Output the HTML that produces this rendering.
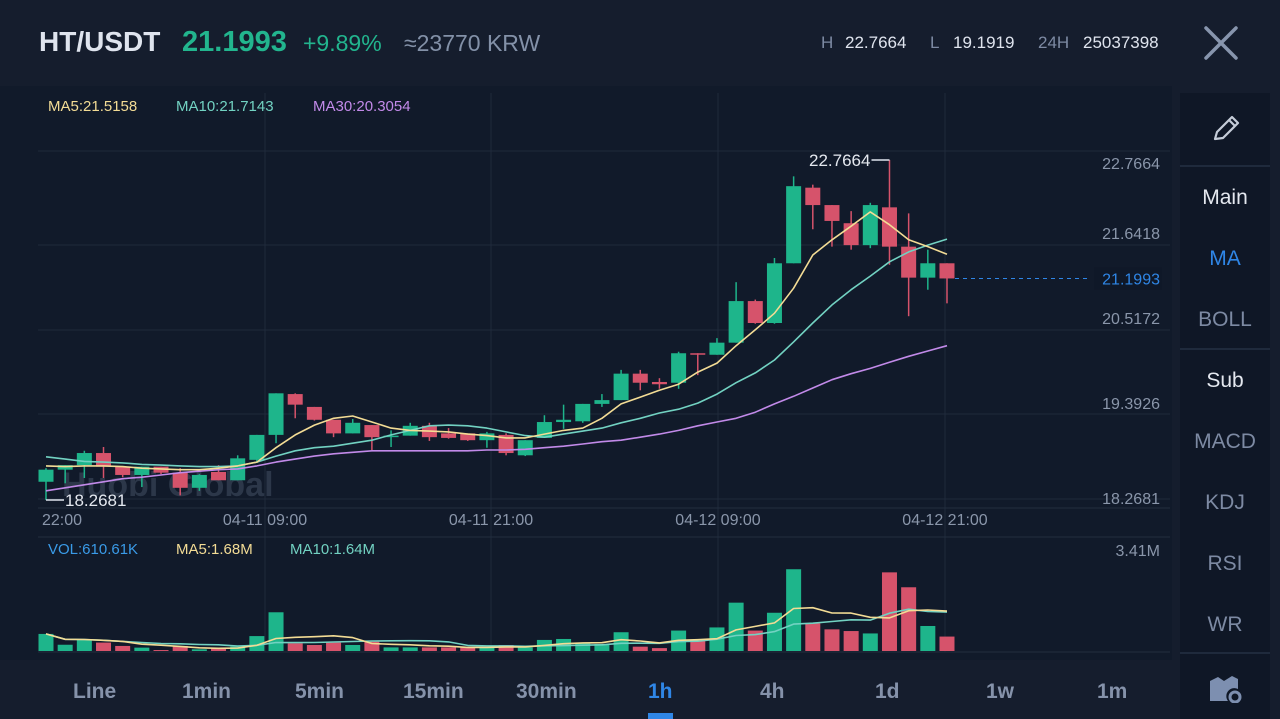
<!DOCTYPE html>
<html><head><meta charset="utf-8">
<style>
*{margin:0;padding:0;box-sizing:border-box}
body{width:1280px;height:719px;overflow:hidden;background:#151d2d;font-family:"Liberation Sans",sans-serif;position:relative}
.t{position:absolute;white-space:nowrap}
#header{position:absolute;left:0;top:0;width:1280px;height:86px;background:#151d2d}
#chart-panel{position:absolute;left:0;top:86px;width:1172px;height:574px;background:#111a2a}
#side{position:absolute;left:1180px;top:93px;width:90px;height:626px;background:#0f1726}
.side-item{position:absolute;left:0;width:90px;text-align:center;font-size:21px;color:#7d8aa3}
.sep{position:absolute;left:0;width:90px;height:2px;background:#1f2a3c}
.tab{position:absolute;top:680px;font-size:21px;color:#8592aa;font-weight:bold}
</style></head>
<body>
<div id="header">
  <div class="t" style="left:39px;top:26px;font-size:28px;font-weight:bold;color:#dfe4ee">HT/USDT</div>
  <div class="t" style="left:182px;top:26px;font-size:29px;font-weight:bold;color:#22b58e">21.1993</div>
  <div class="t" style="left:303px;top:30px;font-size:23px;color:#22b58e">+9.89%</div>
  <div class="t" style="left:404px;top:30px;font-size:23px;color:#8391a8">≈23770 KRW</div>
  <div class="t" style="left:821px;top:33px;font-size:17px;color:#7d8aa3">H</div>
  <div class="t" style="left:845px;top:33px;font-size:17px;color:#dfe4ee">22.7664</div>
  <div class="t" style="left:930px;top:33px;font-size:17px;color:#7d8aa3">L</div>
  <div class="t" style="left:953px;top:33px;font-size:17px;color:#dfe4ee">19.1919</div>
  <div class="t" style="left:1038px;top:33px;font-size:17px;color:#7d8aa3">24H</div>
  <div class="t" style="left:1083px;top:33px;font-size:17px;color:#dfe4ee">25037398</div>
  <svg style="position:absolute;left:1203px;top:25px" width="36" height="36"><path d="M3 3L33 33M33 3L3 33" stroke="#8795ad" stroke-width="3.5" stroke-linecap="round"/></svg>
</div>
<div id="chart-panel"></div>
<svg id="chart" style="position:absolute;left:0;top:0" width="1180" height="719"></svg>

<div id="side">
  <svg style="position:absolute;left:30px;top:20px" width="32" height="32"><path d="M5 26L7 19L22 4L28 10L13 25Z M19 7L25 13" fill="none" stroke="#c5ccd8" stroke-width="2.2" stroke-linejoin="round"/></svg>
  <div class="sep" style="top:72px"></div>
  <div class="side-item" style="top:93px;color:#e4e8ef">Main</div>
  <div class="side-item" style="top:154px;color:#2f86e6">MA</div>
  <div class="side-item" style="top:215px">BOLL</div>
  <div class="sep" style="top:255px"></div>
  <div class="side-item" style="top:276px;color:#e4e8ef">Sub</div>
  <div class="side-item" style="top:337px">MACD</div>
  <div class="side-item" style="top:398px">KDJ</div>
  <div class="side-item" style="top:459px">RSI</div>
  <div class="side-item" style="top:520px">WR</div>
  <div class="sep" style="top:559px"></div>
  <svg style="position:absolute;left:28px;top:580px" width="36" height="30"><path d="M2 28V8L10 4L16 8L24 3L30 6V16A8 8 0 0 0 20 28Z" fill="#7d8fb0"/><circle cx="27" cy="24" r="5" fill="none" stroke="#7d8fb0" stroke-width="3"/></svg>
</div>

<div class="tab" style="left:73px">Line</div>
<div class="tab" style="left:182px">1min</div>
<div class="tab" style="left:295px">5min</div>
<div class="tab" style="left:403px">15min</div>
<div class="tab" style="left:516px">30min</div>
<div class="tab" style="left:648px;color:#2f86e6">1h</div>
<div style="position:absolute;left:648px;top:713px;width:25px;height:6px;background:#2f86e6"></div>
<div class="tab" style="left:760px">4h</div>
<div class="tab" style="left:875px">1d</div>
<div class="tab" style="left:986px">1w</div>
<div class="tab" style="left:1097px">1m</div>

<script>
const opens  = [18.51,18.67,18.73,18.89,18.71,18.60,18.71,18.63,18.43,18.64,18.53,18.80,19.13,19.67,19.50,19.33,19.15,19.26,19.10,19.12,19.25,19.15,19.15,19.06,19.13,18.86,19.09,19.30,19.31,19.54,19.59,19.94,19.83,19.82,20.21,20.19,20.35,20.90,20.61,21.40,22.40,22.17,21.93,21.64,22.14,21.62,21.21,21.40];
const highs  = [18.69,18.73,18.92,18.97,18.71,18.71,18.71,18.69,18.61,18.73,18.86,19.13,19.68,19.68,19.50,19.33,19.34,19.26,19.19,19.29,19.29,19.22,19.15,19.17,19.15,19.06,19.39,19.53,19.54,19.67,19.99,19.99,19.88,20.23,20.21,20.41,21.15,20.92,21.47,22.55,22.44,22.17,22.09,22.20,22.7664,22.06,21.58,21.40];
const lows   = [18.2681,18.49,18.56,18.56,18.57,18.44,18.61,18.33,18.39,18.53,18.53,18.77,19.02,19.35,19.32,19.10,19.15,18.93,18.97,19.12,19.05,19.08,19.05,18.96,18.86,18.85,19.09,19.21,19.29,19.50,19.59,19.72,19.74,19.74,19.92,20.19,20.35,20.60,20.60,21.40,21.85,21.62,21.58,21.60,21.38,20.70,21.05,20.87];
const closes = [18.67,18.73,18.89,18.71,18.60,18.71,18.63,18.43,18.60,18.53,18.82,19.13,19.68,19.53,19.33,19.15,19.29,19.10,19.12,19.25,19.10,19.09,19.06,19.15,18.89,19.06,19.30,19.33,19.54,19.59,19.94,19.82,19.80,20.21,20.20,20.35,20.90,20.61,21.40,22.42,22.17,21.96,21.64,22.17,21.62,21.21,21.40,21.1993];
const ma5  = [18.72,18.71,18.72,18.72,18.71,18.69,18.68,18.67,18.67,18.69,18.72,18.77,18.96,19.13,19.26,19.35,19.38,19.30,19.22,19.19,19.18,19.17,19.14,19.12,19.09,19.09,19.14,19.19,19.22,19.35,19.54,19.63,19.72,19.80,19.96,20.08,20.31,20.52,20.74,21.07,21.51,21.71,21.89,22.08,21.91,21.71,21.62,21.52];
const ma10 = [18.84,18.81,18.78,18.77,18.76,18.74,18.73,18.72,18.71,18.71,18.72,18.77,18.85,18.92,18.96,18.98,19.02,19.06,19.13,19.19,19.25,19.26,19.25,19.22,19.17,19.12,19.10,19.14,19.18,19.22,19.29,19.35,19.42,19.47,19.55,19.67,19.82,19.95,20.12,20.36,20.61,20.85,21.05,21.23,21.42,21.55,21.64,21.72];
const ma30 = [18.39,18.43,18.47,18.51,18.55,18.57,18.60,18.63,18.65,18.67,18.68,18.72,18.77,18.81,18.85,18.88,18.90,18.92,18.92,18.92,18.92,18.92,18.92,18.93,18.93,18.94,18.96,18.98,19.01,19.04,19.06,19.10,19.14,19.19,19.25,19.30,19.35,19.43,19.54,19.64,19.75,19.86,19.94,20.01,20.09,20.17,20.24,20.31];
const volumes = [0.71,0.26,0.46,0.35,0.21,0.14,0.04,0.21,0.07,0.11,0.18,0.62,1.61,0.32,0.25,0.35,0.25,0.39,0.15,0.15,0.15,0.15,0.15,0.15,0.25,0.15,0.46,0.50,0.32,0.29,0.78,0.18,0.12,0.85,0.42,0.98,2.01,0.85,1.59,3.40,1.15,0.90,0.83,0.73,3.27,2.65,1.04,0.60];
const priceTicks = ["22.7664","21.6418","20.5172","19.3926","18.2681"];
const timeLabels = ["22:00","04-11 09:00","04-11 21:00","04-12 09:00","04-12 21:00"];
const lastPrice = 21.1993;
const highPrice = 22.7664, lowPrice = 18.2681;

const svg = document.getElementById('chart');
const NS = 'http://www.w3.org/2000/svg';
const X0 = 46, STEP = 19.17, BODY = 15;
const xAt = i => X0 + i * STEP;
const yP = p => 245 + (21.6418 - p) * 75.6;
const VBASE = 651, VPX = 24.05;
const yV = v => VBASE - v * VPX;
const GREEN = '#1eb58b', RED = '#d6536b';

function mk(tag, attrs) { const e = document.createElementNS(NS, tag); for (const k in attrs) e.setAttribute(k, attrs[k]); svg.appendChild(e); return e; }

const gridYs = [151, 245, 330, 414, 499];
gridYs.forEach(function (y) {
  const l = mk('line', {x1: 38, x2: 1170, y1: y, y2: y, stroke: '#1f2a3b', 'stroke-width': 1});
  
  
});
[265, 491, 718, 945].forEach(function (x) {
  const l = mk('line', {x1: x, x2: x, y1: 93, y2: 652, stroke: '#1f2a3b', 'stroke-width': 1});
  
  
});
[508, 537, 652].forEach(function (y) {
  const l = mk('line', {x1: 38, x2: 1170, y1: y, y2: y, stroke: '#222d3f', 'stroke-width': 1});
  
  
});

const wm = mk('text', {x: 62, y: 496, 'font-size': 34, 'font-weight': 'bold', fill: '#2c3749', 'font-family': 'Liberation Sans, sans-serif'});
wm.textContent = 'Huobi Global';



const tickVals = [22.7664, 21.6418, 20.5172, 19.3926, 18.2681];
priceTicks.forEach(function (t, i) {
  const off = i === 0 ? 9 : (i === tickVals.length - 1 ? 4 : -6);
  const e = mk('text', {x: 1160, y: yP(tickVals[i]) + off, 'font-size': 16, fill: '#8a96aa', 'text-anchor': 'end', 'font-family': 'Liberation Sans, sans-serif'});
  e.textContent = t;
  
  
});
const timeXs = [42, 265, 491, 718, 945];
timeLabels.forEach(function (t, i) {
  const e = mk('text', {x: timeXs[i], y: 525, 'font-size': 16, fill: '#8a96aa', 'text-anchor': i === 0 ? 'start' : 'middle', 'font-family': 'Liberation Sans, sans-serif'});
  e.textContent = t;
  
  
});

for (let i = 0; i < closes.length; i++) {
  const up = closes[i] >= opens[i];
  const c = up ? GREEN : RED;
  const x = xAt(i);
  const w = mk('line', {x1: x, x2: x, y1: yP(highs[i]), y2: yP(lows[i]), stroke: c, 'stroke-width': 1.5});
  
  
  const top = yP(Math.max(opens[i], closes[i]));
  const h = Math.max(1.5, Math.abs(yP(opens[i]) - yP(closes[i])));
  const b = mk('rect', {x: x - BODY / 2, y: top, width: BODY, height: h, fill: c});
  
  
}

function line(arr, yfn, color, name) {
  const pts = arr.map((v, i) => xAt(i).toFixed(1) + ',' + yfn(v).toFixed(1)).join(' ');
  const p = mk('polyline', {points: pts, fill: 'none', stroke: color, 'stroke-width': 1.6, 'stroke-linejoin': 'round'});
  
  
}
line(ma30, yP, '#c28ae9', 'ma30-line');
line(ma10, yP, '#72d2c2', 'ma10-line');
line(ma5, yP, '#f3dc95', 'ma5-line');

const lp = mk('line', {x1: 955, x2: 1090, y1: yP(lastPrice), y2: yP(lastPrice), stroke: '#2f86e6', 'stroke-width': 1, 'stroke-dasharray': '4,4'});


const lpbg = mk('rect', {x: 1094, y: yP(lastPrice) - 11, width: 68, height: 22, fill: '#0f1828'});


const lpt = mk('text', {x: 1160, y: yP(lastPrice) + 6, 'font-size': 16, fill: '#2f86e6', 'text-anchor': 'end', 'font-family': 'Liberation Sans, sans-serif'});
lpt.textContent = lastPrice.toFixed(4);



const hi = highs.indexOf(highPrice), lo = lows.indexOf(lowPrice);
const hm = mk('line', {x1: xAt(hi) - 18, x2: xAt(hi), y1: yP(highPrice), y2: yP(highPrice), stroke: '#dfe4ee', 'stroke-width': 1.5});


const ht = mk('text', {x: xAt(hi) - 19, y: yP(highPrice) + 6, 'font-size': 17, fill: '#e4e8ef', 'text-anchor': 'end', 'font-family': 'Liberation Sans, sans-serif'});
ht.textContent = highPrice.toFixed(4);


const lm = mk('line', {x1: xAt(lo), x2: xAt(lo) + 18, y1: yP(lowPrice), y2: yP(lowPrice), stroke: '#dfe4ee', 'stroke-width': 1.5});


const lt = mk('text', {x: xAt(lo) + 19, y: yP(lowPrice) + 6, 'font-size': 17, fill: '#e4e8ef', 'font-family': 'Liberation Sans, sans-serif'});
lt.textContent = lowPrice.toFixed(4);



const legend = [['MA5:21.5158', '#f3dc95', 48], ['MA10:21.7143', '#72d2c2', 176], ['MA30:20.3054', '#c28ae9', 313]];
legend.forEach(function (l) {
  const e = mk('text', {x: l[2], y: 111, 'font-size': 15, fill: l[1], 'font-family': 'Liberation Sans, sans-serif'});
  e.textContent = l[0];
  
  
});

for (let i = 0; i < volumes.length; i++) {
  const c = closes[i] >= opens[i] ? GREEN : RED;
  const b = mk('rect', {x: xAt(i) - BODY / 2, y: yV(volumes[i]), width: BODY, height: volumes[i] * VPX, fill: c});
  
  
}
function movAvg(arr, n) { return arr.map((v, i) => { const s = arr.slice(Math.max(0, i - n + 1), i + 1); return s.reduce((a, b) => a + b, 0) / s.length; }); }
line(movAvg(volumes, 10), yV, '#72d2c2', 'volume-ma10-line');
line(movAvg(volumes, 5), yV, '#f3dc95', 'volume-ma5-line');

const volLegend = [['VOL:610.61K', '#3a9be8', 48], ['MA5:1.68M', '#f3dc95', 176], ['MA10:1.64M', '#72d2c2', 290]];
volLegend.forEach(function (l) {
  const e = mk('text', {x: l[2], y: 554, 'font-size': 15, fill: l[1], 'font-family': 'Liberation Sans, sans-serif'});
  e.textContent = l[0];
  
  
});
const vmax = mk('text', {x: 1160, y: 556, 'font-size': 16, fill: '#8a96aa', 'text-anchor': 'end', 'font-family': 'Liberation Sans, sans-serif'});
vmax.textContent = '3.41M';


</script>
</body></html>
